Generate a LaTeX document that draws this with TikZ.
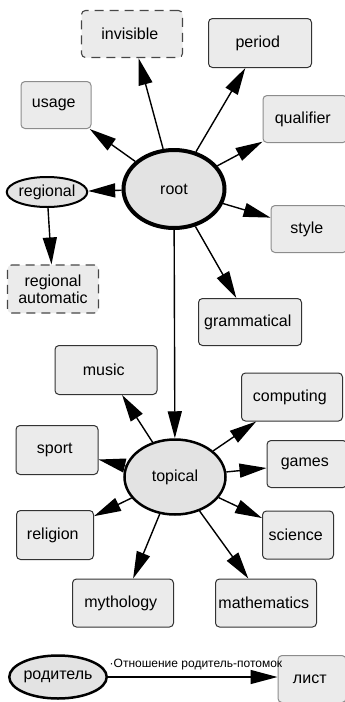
\documentclass[tikz,border=0pt]{standalone}
\usepackage{fontspec}
\setmainfont{Liberation Sans}
\usepackage{tikz}
\usetikzlibrary{shapes,arrows.meta,shapes.geometric}
\definecolor{boxfill}{HTML}{EBEBEB}
\definecolor{hubfill}{HTML}{E3E3E3}
\definecolor{softline}{HTML}{8C8C8C}
\definecolor{darkline}{HTML}{333333}

\tikzset{
    leaf/.style={rectangle, rounded corners=4pt, draw=darkline, line width=1pt,
        fill=boxfill, minimum height=47pt, inner sep=2pt, align=center,
        font=\fontsize{16}{17}\selectfont},
    softleaf/.style={leaf, draw=softline},
    ghostleaf/.style={leaf, draw=darkline!90, line width=1.1pt, dash pattern=on 9pt off 6pt},
    hub/.style={ellipse, draw, fill=hubfill, inner sep=0pt,
        font=\fontsize{16}{17}\selectfont},
    link/.style={line width=1.4pt, -{Triangle[length=27pt, width=14pt]}}
}

\begin{document}
\begin{tikzpicture}[x=1pt, y=-1pt]
    \useasboundingbox (0,0) rectangle (345,702);
    % upper group
    \path
        node (root) at (174,189) [hub, line width=4pt, minimum width=101pt, minimum height=78pt] { root }
        node (regional) at (47,192) [hub, line width=2pt, minimum width=77pt, minimum height=30pt] { regional }
        node (invisible) at (132,34) [ghostleaf, minimum width=101pt] { invisible }
        node (period) at (260,43) [leaf, minimum width=103pt, minimum height=49pt] { period }
        node (usage) at (56,105) [softleaf, minimum width=70pt] { usage }
        node (qualifier) at (305,119) [softleaf, minimum width=84pt] { qualifier }
        node (style) at (309,229) [softleaf, minimum width=76pt] { style }
        node (grammatical) at (250,322) [leaf, minimum width=103pt] { grammatical }
        node (regauto) at (53,289) [ghostleaf, minimum width=91pt, minimum height=48pt] { regional\\automatic };
    % topical group
    \path
        node (topical) at (175,477) [hub, line width=2.5pt, minimum width=101pt, minimum height=75pt] { topical }
        node (music) at (106,370) [leaf, minimum width=102pt, minimum height=49pt] { music }
        node (computing) at (292,397) [leaf, minimum width=101pt, minimum height=48pt] { computing }
        node (sport) at (57,450) [leaf, minimum width=82pt, minimum height=49pt] { sport }
        node (games) at (307,464) [leaf, minimum width=80pt] { games }
        node (religion) at (55,535) [leaf, minimum width=77pt, minimum height=49pt] { religion }
        node (science) at (298,535) [leaf, minimum width=71pt, minimum height=48pt] { science }
        node (mythology) at (123,603) [leaf, minimum width=101pt, minimum height=48pt] { mythology }
        node (mathematics) at (266,603) [leaf, minimum width=101pt, minimum height=48pt] { mathematics };
    % legend
    \path
        node (parent) at (58,677) [hub, line width=2.5pt, minimum width=87pt, minimum height=43pt] { родитель }
        node (sheet) at (312,679) [softleaf, minimum width=68pt] { лист };

    \foreach \child in {invisible,period,usage,qualifier,regional,style,grammatical,topical}
        \draw[link] (root) -- (\child);
    \draw[link] (regional) -- (regauto);
    \foreach \child in {music,computing,sport,games,religion,science,mythology,mathematics}
        \draw[link] (topical) -- (\child);
    \draw[link] (parent.east) -- node[pos=0, anchor=south west, inner sep=1pt, yshift=5pt,
        font=\fontsize{12}{13}\selectfont] {·Отношение родитель-потомок} (sheet.west |- parent.east);
\end{tikzpicture}
\end{document}
